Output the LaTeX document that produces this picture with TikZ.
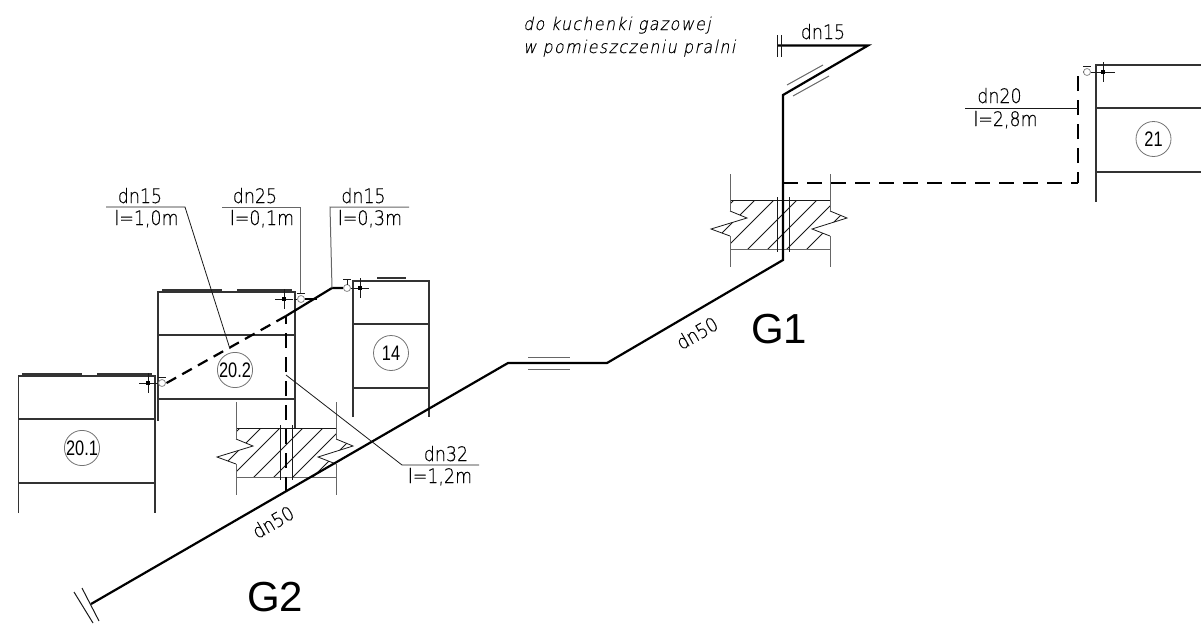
\documentclass[tikz,border=0pt]{standalone}
\usepackage{fontspec}
\setmainfont{Liberation Sans}
\newfontfamily\cadfont[FakeStretch=.87,FakeBold=.25]{DejaVu Sans ExtraLight}
\newfontfamily\cadital[FakeStretch=.9,FakeSlant=.2,LetterSpace=8,FakeBold=.25]{DejaVu Sans ExtraLight}
\newfontfamily\circfont[FakeStretch=.78]{Liberation Sans}
\tikzset{
  thinline/.style={line width=.8pt,black!90},
  grayline/.style={line width=1pt,black!60},
  boxline/.style={line width=1.1pt,black!80},
  pipe/.style={line width=2.2pt,black},
  dashpipe/.style={line width=2.2pt,black,dash pattern=on 15pt off 9pt},
  pipelbl/.style={font=\cadfont\fontsize{20}{20}\selectfont,inner sep=0pt,black},
  circlbl/.style={circle,draw=black!55,line width=.8pt,minimum size=35pt,inner sep=0pt,font=\circfont\fontsize{21}{21}\selectfont},
  bigl/.style={font=\fontsize{42}{42}\selectfont,inner sep=0pt,anchor=base west},
  valve/.style={circle,draw=black!45,line width=.8pt,minimum size=7pt,inner sep=0pt},
}
\newcommand{\wallsec}[4]{% x-offset y-offset, two sleeve positions (relative)
\begin{scope}[shift={(#1,#2)}]
  \begin{scope}
    \clip (236,428)--(336,428)--(336,439)--(353,446)--(318,457)--(336,464)--(336,477)--(236,477)--(236,464)--(217,457)--(253,446)--(236,439)--cycle;
    \foreach \s in {668,689,708,731,751,770,790}
      \draw[thinline] (\s-400,400)--(\s-500,500);
  \end{scope}
  \draw[thinline] (236,428)--(336,428);
  \draw[grayline] (236,477)--(336,477);
  \draw[thinline] (236,439)--(253,446)--(217,457)--(236,464);
  \draw[thinline] (336,439)--(353,446)--(318,457)--(336,464);
  \draw[grayline] (236,402)--(236,439) (236,464)--(236,495);
  \draw[grayline] (336,402)--(336,439) (336,464)--(336,495);
  \draw[thinline,line width=1pt] (#3,425)--(#3,480) (#4,425)--(#4,480);
\end{scope}}
\newcommand{\valvecross}[3]{% cross centre x, y, half width
  \draw[thinline] (#1-#3,#2)--(#1+#3,#2) (#1,#2-10)--(#1,#2+10);
  \fill[black] (#1-1.8,#2-1.8) rectangle (#1+1.8,#2+1.8);}
\begin{document}
\begin{tikzpicture}[x=1pt,y=-1pt]
\useasboundingbox (0,0) rectangle (1201,624);
% coordinates of the pipe
\coordinate (gA) at (91,604);
\coordinate (gB) at (508,363);
\coordinate (gC) at (607,363);
\coordinate (gD) at (783,260);
\coordinate (gE) at (783,95);
\coordinate (gF) at (868,45.5);
\coordinate (gG) at (778,45.5);
\coordinate (tB) at (783,183);
\coordinate (tC) at (1078,183);
\coordinate (tD) at (1078,72);
\coordinate (tE) at (1084,72);
\coordinate (rA) at (286,492);
\coordinate (rB) at (286,316);
\coordinate (rC) at (332,288);
\coordinate (rD) at (343,288);
\coordinate (rE) at (163,385);
% boxes
\draw[boxline] (18.5,513)--(18.5,376)--(155,376)--(155,513) (18.5,419)--(155,419) (18.5,483)--(155,483);
\draw[boxline] (22,374)--(82,374) (97,374)--(152,374);
\draw[boxline] (158,421)--(158,292)--(295,292)--(295,428) (158,335)--(295,335) (158,399)--(295,399);
\draw[boxline] (162,290)--(222,290) (237,290)--(292,290);
\draw[boxline] (353,417)--(353,281)--(429,281)--(429,417) (353,324)--(429,324) (353,388)--(429,388);
\draw[boxline] (377,278)--(406,278);
\draw[boxline] (1201,65)--(1096,65)--(1096,202) (1096,108)--(1201,108) (1096,172)--(1201,172);
% wall sections
\wallsec{0}{0}{280}{292}
\wallsec{494}{-228}{283}{295}
% pipes
\draw[pipe,line join=miter] (gA)--(gB)--(gC)--(gD)--(gE)--(gF)--(gG);
\draw[thinline,line width=1pt] (777,35)--(777,57) (781,35)--(781,57);
\draw[thinline,line width=1pt] (74,592)--(93,623) (82,588)--(99,621);
\draw[grayline] (787,85)--(823,65) (793,96)--(829,76);
\draw[grayline] (528,357)--(570,357) (528,369)--(570,369);
\draw[dashpipe] (tB)--(tC);
\draw[dashpipe,dash phase=4pt] (tC)--(tD)--(tE);
\draw[dashpipe] (rA)--(rB);
\draw[pipe] (rB)--(rC)--(rD);
\draw[dashpipe,dash pattern=on 11pt off 7pt] (rB)--(rE);
% valves
\node[valve] (v1) at (347,288) {};
\draw[thinline] (343,279)--(351,279) (347,279)--(347,284.5);
\draw[thinline] (v1)--(352,288);
\valvecross{360}{288}{9}
\node[valve] (v2) at (301,299) {};
\draw[thinline] (297,293)--(305,293);
\draw[thinline] (v2)--(294,299);
\valvecross{284}{299}{9}
\draw[pipe] (v2)--(317,299);
\node[valve] (v3) at (162,383) {};
\draw[thinline] (158,377)--(166,377);
\draw[thinline] (v3)--(156,383);
\valvecross{148}{383}{9}
\node[valve] (v4) at (1087,72) {};
\draw[thinline] (1083,66)--(1091,66);
\draw[thinline] (v4)--(1092,72);
\valvecross{1103}{72}{12}
% leaders
\draw[thinline] (106,207)--(185,207)--(230,349);
\draw[grayline] (222,207)--(300,207)--(300,293);
\draw[grayline] (409,207)--(330,207)--(rC);
\draw[thinline] (479,465)--(402,465)--(286,375);
\draw[thinline] (965,108)--(tC|-0,108);
% labels
\node[pipelbl,anchor=base] (t1) at (140,203) {dn15};
\node[pipelbl,anchor=base] (t2) at (146.5,225) {l=1,0m};
\node[pipelbl,anchor=base] (t3) at (255,203) {dn25};
\node[pipelbl,anchor=base] (t4) at (262,225) {l=0,1m};
\node[pipelbl,anchor=base] (t5) at (363.5,203) {dn15};
\node[pipelbl,anchor=base] (t6) at (370,225) {l=0,3m};
\node[pipelbl,anchor=base] (t7) at (446,461) {dn32};
\node[pipelbl,anchor=base] (t8) at (440,483) {l=1,2m};
\node[pipelbl,anchor=base] (t9) at (999.5,103) {dn20};
\node[pipelbl,anchor=base] (t10) at (1005.5,126) {l=2,8m};
\node[pipelbl,anchor=base] (t11) at (823,39) {dn15};
\node[pipelbl,rotate=30] (t12) at (273,522) {dn50};
\node[pipelbl,rotate=30] (t13) at (697,333) {dn50};
\node[font=\cadital\fontsize{17.6}{17.6}\selectfont,inner sep=0pt,anchor=base west] (t14) at (523,30) {do kuchenki gazowej};
\node[font=\cadital\fontsize{17.6}{17.6}\selectfont,inner sep=0pt,anchor=base west] (t15) at (523,53) {w pomieszczeniu pralni};
\node[circlbl] (c1) at (82,448) {20.1};
\node[circlbl] (c2) at (235,370) {20.2};
\node[circlbl] (c3) at (391,353) {14};
\node[circlbl] (c4) at (1153.5,139) {21};
\node[bigl] (g1) at (751,343) {G1};
\node[bigl] (g2) at (247,611) {G2};
\end{tikzpicture}
\end{document}
